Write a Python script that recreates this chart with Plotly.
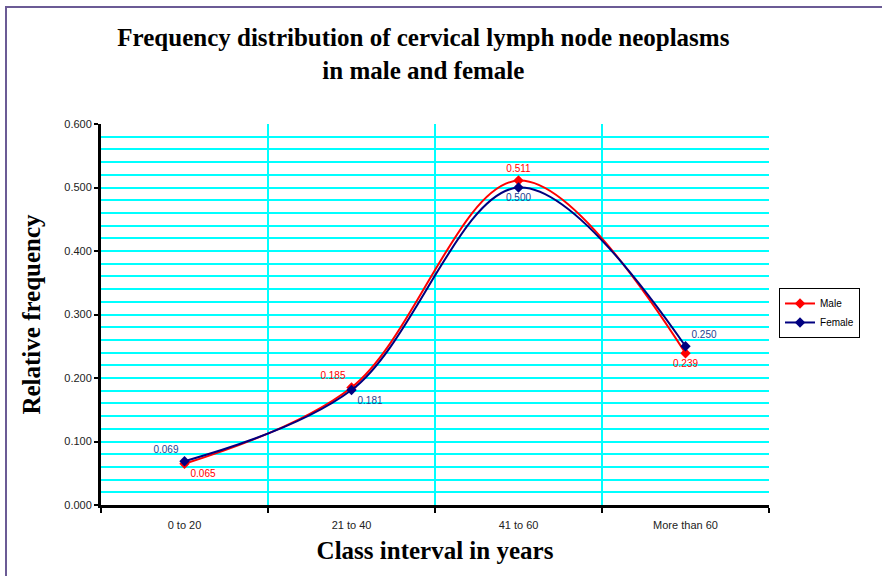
import plotly.graph_objects as go

categories = ["0 to 20", "21 to 40", "41 to 60", "More than 60"]
male = [0.065, 0.185, 0.511, 0.239]
female = [0.069, 0.181, 0.500, 0.250]
x_pos = [0, 1, 2, 3]

fig = go.Figure()
fig.add_trace(go.Scatter(
    x=x_pos, y=male, name="Male", mode="lines+markers+text",
    line=dict(color="#FF0000", width=2, shape="spline", smoothing=1.0),
    marker=dict(symbol="diamond", size=8, color="#FF0000"),
    text=[f"{v:.3f}" for v in male],
    textposition=["bottom right", "top left", "top center", "bottom center"],
    textfont=dict(family="Arial", size=10, color="#FF0000"),
))
fig.add_trace(go.Scatter(
    x=x_pos, y=female, name="Female", mode="lines+markers+text",
    line=dict(color="#000080", width=2, shape="spline", smoothing=1.0),
    marker=dict(symbol="diamond", size=8, color="#000080"),
    text=[f"{v:.3f}" for v in female],
    textposition=["top left", "bottom right", "bottom center", "top right"],
    textfont=dict(family="Arial", size=10, color="#1F3F8F"),
))

fig.update_layout(
    width=882, height=576,
    margin=dict(l=101, r=113, t=124, b=71),
    paper_bgcolor="white", plot_bgcolor="white",
    title=dict(
        text="Frequency distribution of cervical lymph node neoplasms<br>in male and female",
        x=0.48, xanchor="center", y=0.92, yanchor="top",
        font=dict(family="Liberation Serif", size=25, color="black", weight="bold"),
    ),
    showlegend=True,
    legend=dict(
        x=1.015, xanchor="left", y=0.504, yanchor="middle",
        bordercolor="black", borderwidth=1, bgcolor="white",
        font=dict(family="Arial", size=10, color="black"),
        itemwidth=30, tracegroupgap=0,
    ),
    shapes=[dict(type="rect", xref="paper", yref="paper",
                 x0=(6 - 101) / 668, x1=1.2, y0=-0.3, y1=1 + (124 - 7) / 381,
                 line=dict(color="#6B5B95", width=2), layer="below")],
)

fig.update_xaxes(
    range=[-0.5, 3.5], tickvals=x_pos, ticktext=categories,
    showgrid=False, zeroline=False, ticks="", ticklabelstandoff=8,
    showline=True, linecolor="black", linewidth=3,
    tickfont=dict(family="Arial", size=11, color="#222"),
    minor=dict(tickvals=[-0.5, 0.5, 1.5, 2.5, 3.5], showgrid=True,
               gridcolor="#00FFFF", gridwidth=2, ticks="outside",
               ticklen=5, tickwidth=2, tickcolor="black"),
    title=dict(text="Class interval in years", standoff=12,
               font=dict(family="Liberation Serif", size=25, color="black", weight="bold")),
)
fig.update_yaxes(
    range=[0, 0.6], dtick=0.1, tickformat=".3f",
    showgrid=True, gridcolor="#00FFFF", gridwidth=2,
    zeroline=False, showline=True, linecolor="black", linewidth=3,
    ticks="outside", ticklen=4, tickwidth=2, tickcolor="black",
    tickfont=dict(family="Arial", size=11, color="#222"),
    minor=dict(dtick=0.02, showgrid=True, gridcolor="#00FFFF", gridwidth=2),
    title=dict(text="Relative frequency", standoff=17,
               font=dict(family="Liberation Serif", size=25, color="black", weight="bold")),
)

fig.write_html("out.html", config={"displayModeBar": False},
               post_script="document.body.style.margin='0';")
